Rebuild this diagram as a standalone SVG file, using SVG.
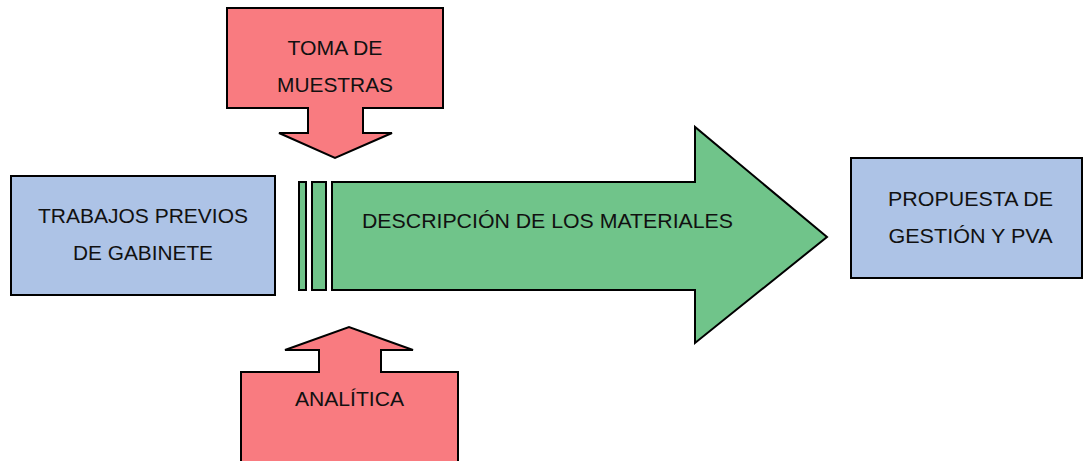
<svg xmlns="http://www.w3.org/2000/svg" width="1083" height="461" viewBox="0 0 1083 461">
<style>
.s{stroke:#000;stroke-width:2;stroke-linejoin:miter}
.pink{fill:#F97B80}
.blue{fill:#ADC3E6}
.green{fill:#70C48A}
text{font-family:"Liberation Sans",Arial,sans-serif;font-size:19.5px;fill:#111;text-anchor:middle}
</style>
<rect width="1083" height="461" fill="#fff"/>
<g id="toma">
<path class="s pink" d="M227,8 H443 V108 H363 V133 H392 L335,158 L279,133 H308 V108 H227 Z"/>
<text x="335" y="55" textLength="95" lengthAdjust="spacingAndGlyphs">TOMA DE</text>
<text x="335" y="92" textLength="116" lengthAdjust="spacingAndGlyphs">MUESTRAS</text>
</g>
<g id="analitica">
<path class="s pink" d="M241,463 V372 H319 V350 H285 L349,327 L413,350 H381 V372 H458 V463"/>
<text x="349.5" y="406" textLength="109" lengthAdjust="spacingAndGlyphs">ANALÍTICA</text>
</g>
<g id="trabajos">
<rect class="s blue" x="11" y="176" width="264" height="119"/>
<text x="143" y="223" textLength="210" lengthAdjust="spacingAndGlyphs">TRABAJOS PREVIOS</text>
<text x="143" y="260" textLength="140" lengthAdjust="spacingAndGlyphs">DE GABINETE</text>
</g>
<g id="descripcion">
<rect class="s green" x="299" y="182" width="7" height="108"/>
<rect class="s green" x="312" y="182" width="14" height="108"/>
<path class="s green" d="M332,182 H695 V127 L827,237 L695,343 V290 H332 Z"/>
<text x="547.5" y="228" textLength="371" lengthAdjust="spacingAndGlyphs">DESCRIPCIÓN DE LOS MATERIALES</text>
</g>
<g id="propuesta">
<rect class="s blue" x="851" y="158" width="231" height="120"/>
<text x="970.5" y="206" textLength="165" lengthAdjust="spacingAndGlyphs">PROPUESTA DE</text>
<text x="970.5" y="243" textLength="164" lengthAdjust="spacingAndGlyphs">GESTIÓN Y PVA</text>
</g>
<g id="connectors"></g>
</svg>
